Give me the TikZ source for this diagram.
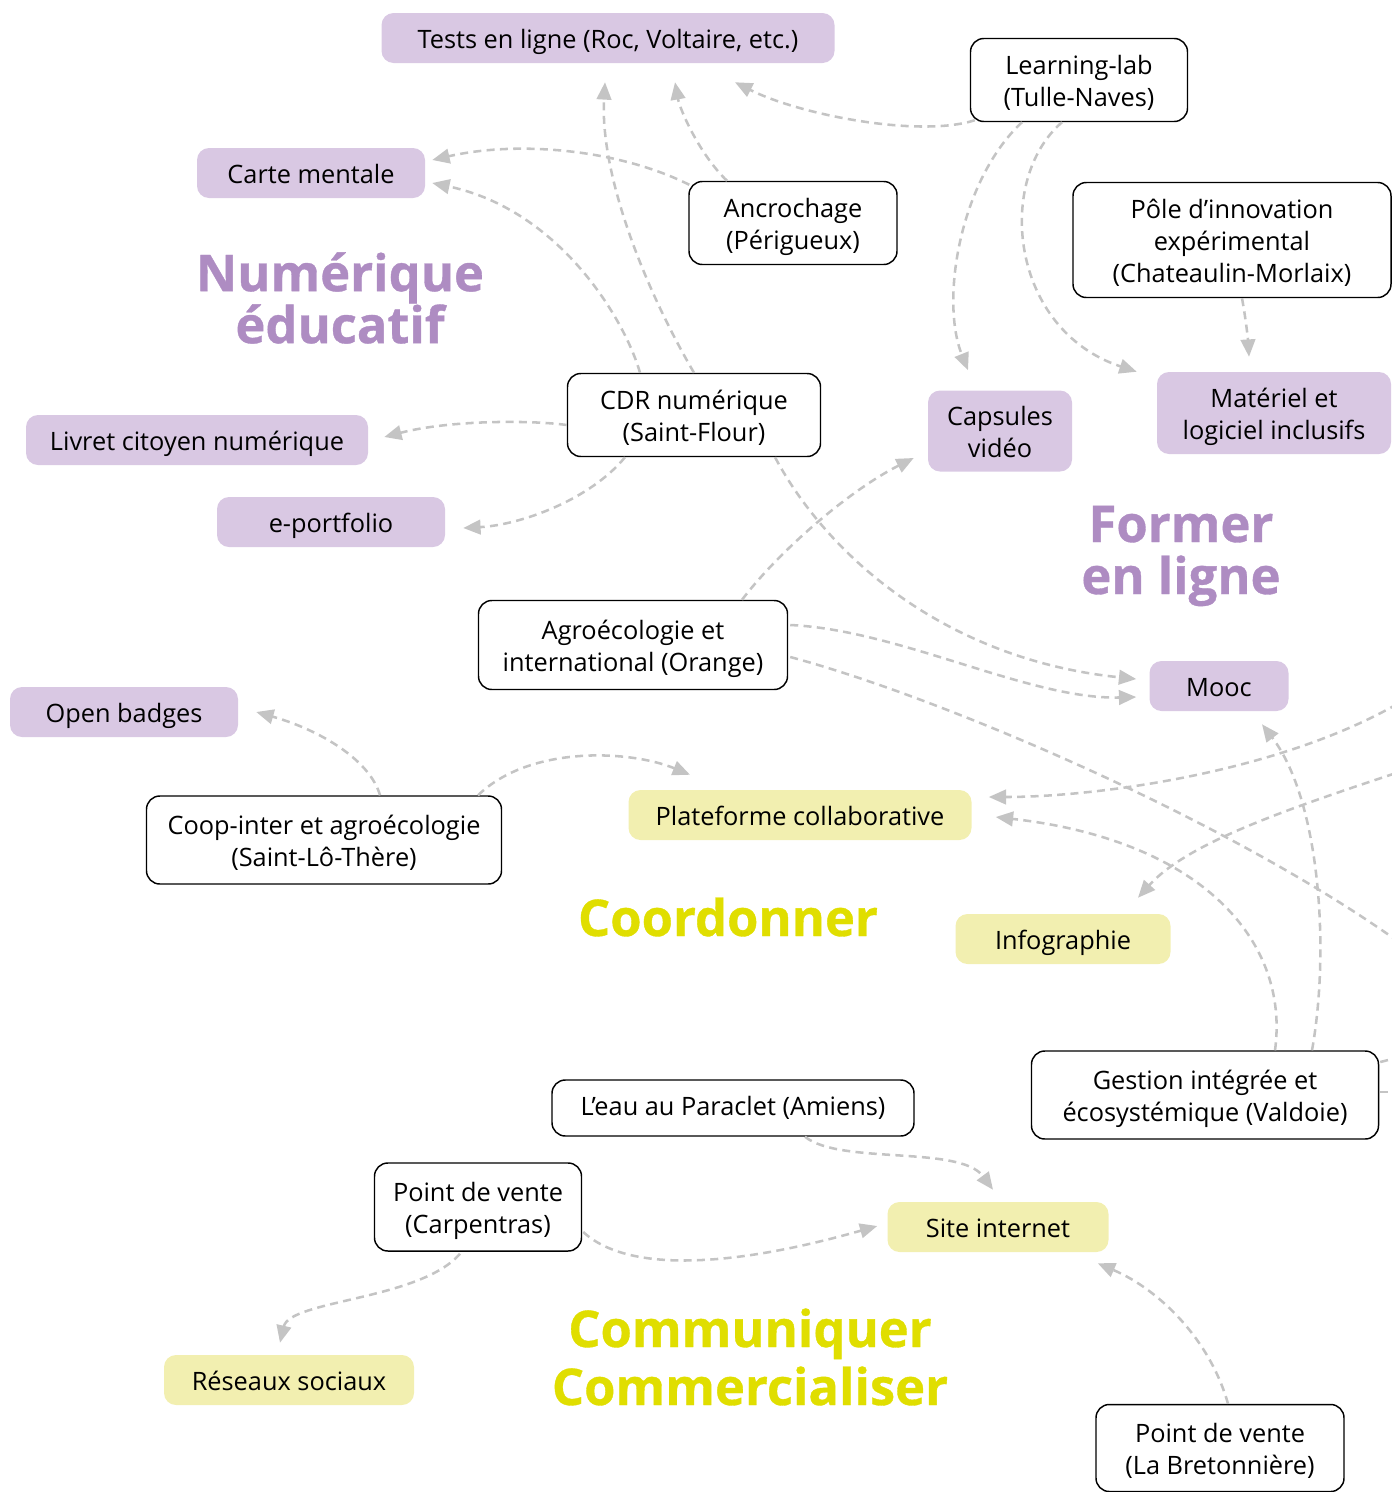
\documentclass[tikz,border=0pt]{standalone}
\usepackage{fontspec}
\setmainfont{Open Sans}
\newfontfamily\headfont{Open Sans}[BoldFeatures={FakeBold=0.7}]
\usetikzlibrary{arrows.meta}
\definecolor{lilac}{HTML}{D9C8E3}
\definecolor{lilachead}{HTML}{AE8CC2}
\definecolor{ylw}{HTML}{F2EFB0}
\definecolor{ylwhead}{HTML}{E0DE00}
\definecolor{cgray}{HTML}{C4C4C4}
\newcommand\bstrut{\rule[-5pt]{0pt}{5pt}}
\newcommand\ml[2]{\smash{\begin{tabular}[t]{@{}c@{}}#2\end{tabular}}\rule[-\dimexpr 24pt*(#1-1)+5pt\relax]{0pt}{1pt}}
\tikzset{
  sz/.style 2 args={minimum width=#1*0.75pt, minimum height=#2*0.75pt},
  basebox/.style={inner sep=0pt, text=black, font=\fontsize{19}{24}\selectfont,
    execute at begin node={\rule{0pt}{#1}}, execute at end node=\bstrut},
  pbox/.style={basebox={#1}, fill=lilac, rounded corners=9pt},
  pbox/.default=20pt,
  ybox/.style={basebox={#1}, fill=ylw, rounded corners=9pt},
  ybox/.default=20pt,
  wbox/.style={basebox={#1}, draw=black, line width=1.1pt, fill=white, rounded corners=10pt},
  wbox/.default=20pt,
  headtxt/.style={align=center, inner sep=0pt, font=\headfont\bfseries\fontsize{38}{39}\selectfont},
  conn/.style={draw=cgray, line width=1.9pt, dash pattern=on 6pt off 4pt,
    -{Triangle[length=13pt, width=11pt, fill=cgray]}},
}
\begin{document}
\begin{tikzpicture}[x=0.75pt, y=-0.75pt]
\clip (0,0) rectangle (1392,1492);
% purple boxes
\node[pbox, sz={453}{50}] (tests) at (608,38) {Tests en ligne (Roc, Voltaire, etc.)};
\node[pbox, sz={228}{50}] (carte) at (311,173) {Carte mentale};
\node[pbox, sz={342}{50}] (livret) at (197,440) {Livret citoyen numérique};
\node[pbox, sz={228}{50}] (eport) at (331,522) {e-portfolio};
\node[pbox, sz={144}{81}] (caps) at (1000,431) {\ml{2}{Capsules\\vidéo}};
\node[pbox, sz={234}{82}] (mat) at (1274,413) {\ml{2}{Matériel et\\logiciel inclusifs}};
\node[pbox, sz={139}{50}] (mooc) at (1219,686) {Mooc};
\node[pbox, sz={228}{50}] (badges) at (124,712) {Open badges};
% yellow boxes
\node[ybox, sz={343}{50}] (plat) at (800,815) {Plateforme collaborative};
\node[ybox, sz={215}{50}] (info) at (1063,939) {Infographie};
\node[ybox, sz={221}{50}] (site) at (998,1227) {Site internet};
\node[ybox, sz={250}{50}] (reseaux) at (289,1380) {Réseaux sociaux};
% white boxes
\node[wbox, sz={217}{83}] (learn) at (1079,80) {\ml{2}{Learning-lab\\(Tulle-Naves)}};
\node[wbox, sz={208}{83}] (ancr) at (793,223) {\ml{2}{Ancrochage\\(Périgueux)}};
\node[wbox, sz={318}{115}] (pole) at (1232,240) {\ml{3}{Pôle d’innovation\\expérimental\\(Chateaulin-Morlaix)}};
\node[wbox, sz={253}{83}] (cdr) at (694,415) {\ml{2}{CDR numérique\\(Saint-Flour)}};
\node[wbox, sz={309}{89}] (agro) at (633,645) {\ml{2}{Agroécologie et\\international (Orange)}};
\node[wbox, sz={355}{88}] (coop) at (324,840) {\ml{2}{Coop-inter et agroécologie\\(Saint-Lô-Thère)}};
\node[wbox, sz={347}{88}] (gest) at (1205,1095) {\ml{2}{Gestion intégrée et\\écosystémique (Valdoie)}};
\node[wbox=15.5pt, sz={362}{56}] (eau) at (733,1108) {L’eau au Paraclet (Amiens)};
\node[wbox, sz={207}{88}] (pvc) at (478,1207) {\ml{2}{Point de vente\\(Carpentras)}};
\node[wbox, sz={248}{87}] (pvb) at (1220,1448) {\ml{2}{Point de vente\\(La Bretonnière)}};
% headings
\node[headtxt, text=lilachead] (hnum) at (340,298) {Numérique\\éducatif};
\node[headtxt, text=lilachead] (hform) at (1181,556) {Former\\en ligne};
\node[headtxt, text=ylwhead] (hcoord) at (728,917) {Coordonner};
\node[headtxt, text=ylwhead, font=\headfont\bfseries\fontsize{38}{43.5}\selectfont] (hcomm) at (750,1357) {Communiquer\\Commercialiser};
% off-picture ends
\coordinate (offA) at (1430,965);
\coordinate (offB) at (1420,690);
\coordinate (offC) at (1420,765);
\coordinate (offD) at (1420,1052);
\coordinate (offE) at (1420,1092);
% connectors
\draw[conn] ([shift={(5,-2)}]learn.south west) .. controls (920,138) and (800,115) .. ([shift={(127,19)}]tests.south);
\draw[conn] ([shift={(-57,0)}]learn.south) .. controls (960,180) and (940,300) .. ([shift={(-32,-20)}]caps.north);
\draw[conn] ([shift={(-17,0)}]learn.south) .. controls (995,180) and (1010,330) .. ([shift={(-20,0)}]mat.north west);
\draw[conn] ([shift={(10,0)}]pole.south) .. controls (1246,320) and (1248,340) .. ([shift={(-25,-15)}]mat.north);
\draw[conn] ([shift={(-66,0)}]ancr.north) .. controls (700,155) and (680,110) .. ([shift={(67,19)}]tests.south);
\draw[conn] ([shift={(1,4)}]ancr.north west) .. controls (620,150) and (520,140) .. ([shift={(7,-13)}]carte.east);
\draw[conn] (cdr.north) .. controls (640,280) and (600,170) .. ([shift={(-3,19)}]tests.south);
\draw[conn] ([shift={(-54,0)}]cdr.north) .. controls (625,320) and (560,210) .. ([shift={(7,10)}]carte.east);
\draw[conn] ([shift={(0,10)}]cdr.west) .. controls (530,420) and (450,420) .. ([shift={(16,-3)}]livret.east);
\draw[conn] ([shift={(-69,0)}]cdr.south) .. controls (590,500) and (520,525) .. ([shift={(18,6)}]eport.east);
\draw[conn] ([shift={(81,0)}]cdr.south) .. controls (830,560) and (950,660) .. ([shift={(-13,-7)}]mooc.west);
\draw[conn] ([shift={(109,0)}]agro.north) .. controls (780,550) and (850,490) .. ([shift={(-14,27)}]caps.west);
\draw[conn] ([shift={(2,-20)}]agro.east) .. controls (900,630) and (1030,700) .. ([shift={(-13,11)}]mooc.west);
\draw[conn] ([shift={(2,12)}]agro.east) .. controls (950,700) and (1250,830) .. (offA);
\draw[conn] ([shift={(56,0)}]coop.north) .. controls (370,760) and (320,730) .. ([shift={(18,0)}]badges.east);
\draw[conn] ([shift={(154,0)}]coop.north) .. controls (530,745) and (630,750) .. ([shift={(-110,-15)}]plat.north);
\draw[conn] (offB) .. controls (1300,770) and (1100,797) .. ([shift={(17,-18)}]plat.east);
\draw[conn] ([shift={(70,0)}]gest.north) .. controls (1290,940) and (1200,840) .. ([shift={(24,2)}]plat.east);
\draw[conn] (offC) .. controls (1300,805) and (1190,840) .. ([shift={(75,-16)}]info.north);
\draw[conn] ([shift={(107,0)}]gest.north) .. controls (1330,950) and (1320,800) .. ([shift={(43,13)}]mooc.south);
\draw[conn] ([shift={(1,-33)}]gest.east) -- (offD);
\draw[conn] ([shift={(1,-3)}]gest.east) -- (offE);
\draw[conn] ([shift={(72,0)}]eau.south) .. controls (840,1165) and (960,1145) .. ([shift={(-5,-12)}]site.north);
\draw[conn] ([shift={(1,25)}]pvc.east) .. controls (630,1275) and (740,1265) .. ([shift={(-10,-1)}]site.west);
\draw[conn] ([shift={(-18,2)}]pvc.south) .. controls (420,1300) and (290,1300) .. ([shift={(-9,-12)}]reseaux.north);
\draw[conn] ([shift={(8,0)}]pvb.north) .. controls (1210,1340) and (1160,1290) .. ([shift={(-11,11)}]site.south east);
\end{tikzpicture}
\end{document}
